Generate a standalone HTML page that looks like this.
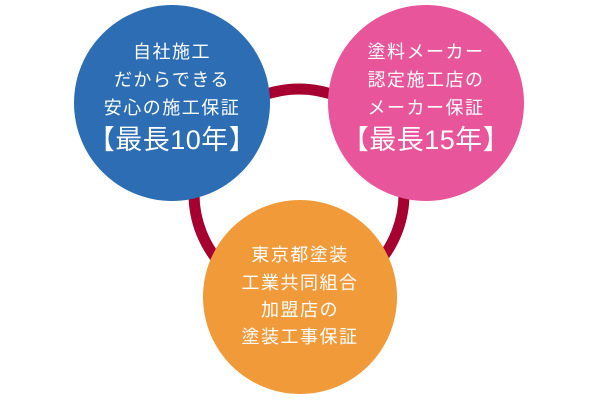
<!DOCTYPE html>
<html><head><meta charset="utf-8"><style>
html,body{margin:0;padding:0;background:#fff;width:600px;height:400px;overflow:hidden}
svg{display:block}
text{font-family:"Liberation Sans","Noto Sans CJK JP",sans-serif;fill:#fff;text-anchor:middle;dominant-baseline:central;font-weight:400}
.s{font-size:18px;letter-spacing:1.5px}
.b{font-size:27px;letter-spacing:0.5px}
</style></head><body>
<svg width="600" height="400" viewBox="0 0 600 400">
<circle cx="299" cy="194" r="105" fill="none" stroke="#a5002f" stroke-width="11"/>
<circle cx="172" cy="103" r="98" fill="#2c6db3"/>
<circle cx="426" cy="103" r="98" fill="#e8559a"/>
<circle cx="300" cy="297" r="97" fill="#f19a3a"/>
<text class="s" x="172" y="52">自社施工</text>
<text class="s" x="172" y="80">だからできる</text>
<text class="s" x="172" y="108">安心の施工保証</text>
<text class="b" x="172" y="140">【最長10年】</text>
<text class="s" x="426" y="52">塗料メーカー</text>
<text class="s" x="426" y="80">認定施工店の</text>
<text class="s" x="426" y="108">メーカー保証</text>
<text class="b" x="426" y="140">【最長15年】</text>
<text class="s" x="300" y="255">東京都塗装</text>
<text class="s" x="300" y="283">工業共同組合</text>
<text class="s" x="300" y="310">加盟店の</text>
<text class="s" x="300" y="337">塗装工事保証</text>
</svg>
</body></html>
